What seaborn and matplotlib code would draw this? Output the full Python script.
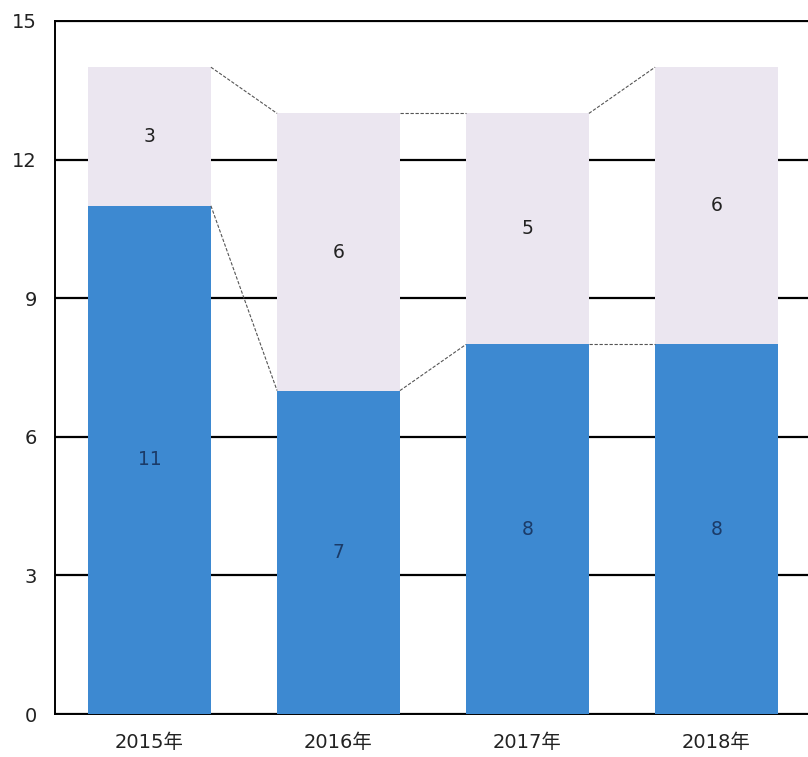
import matplotlib
matplotlib.use("Agg")
import matplotlib.pyplot as plt
import seaborn as sns
import pandas as pd

years = ["2015年", "2016年", "2017年", "2018年"]
lower_vals = [11, 7, 8, 8]
upper_vals = [3, 6, 5, 6]

BLUE = "#3d89d1"
LAVENDER = "#ebe6f0"

sns.set_theme(style="white")
plt.rcParams["font.family"] = ["DejaVu Sans", "Noto Sans CJK JP"]

df = pd.DataFrame({"year": years, "lower": lower_vals, "upper": upper_vals})
df["total"] = df["lower"] + df["upper"]

fig = plt.figure(figsize=(8.08, 7.57), dpi=100)
# axes span: left 55px, right ~811px, top 21px, bottom 714px
ax = fig.add_axes([55 / 808, 1 - 714 / 757, 756 / 808, 693 / 757])

sns.barplot(data=df, x="year", y="total", color=LAVENDER, width=0.65,
            saturation=1, ax=ax, zorder=3)
n = len(ax.patches)
sns.barplot(data=df, x="year", y="lower", color=BLUE, width=0.65,
            saturation=1, ax=ax, zorder=3)
upper_bars = ax.patches[:n]
lower_bars = ax.patches[n:]
for p in ax.patches:
    p.set_edgecolor("none")

# series lines between neighbouring bars
for bars in (upper_bars, lower_bars):
    for a, b in zip(bars[:-1], bars[1:]):
        ax.plot([a.get_x() + a.get_width(), b.get_x()],
                [a.get_height(), b.get_height()],
                color="#555555", lw=0.8, ls=(0, (3, 1.5)), zorder=4)

# value labels centred in each segment
for i, (lo, up) in enumerate(zip(lower_vals, upper_vals)):
    ax.text(i, lo / 2, str(lo), ha="center", va="center",
            fontsize=13.5, color="#1b3b68", zorder=5)
    ax.text(i, lo + up / 2, str(up), ha="center", va="center",
            fontsize=13.5, color="#222222", zorder=5)

ax.set_xlim(-0.5, 3.5)
ax.set_ylim(0, 15)
ax.set_yticks([0, 3, 6, 9, 12, 15])
ax.yaxis.grid(True, color="black", lw=1.6, zorder=0)
ax.set_axisbelow(True)
ax.set_xlabel("")
ax.set_ylabel("")
ax.tick_params(axis="both", length=0, labelsize=14, colors="#222222")
ax.tick_params(axis="y", pad=13)
ax.tick_params(axis="x", pad=14)

for side in ("left", "bottom", "top"):
    ax.spines[side].set_visible(True)
    ax.spines[side].set_color("black")
    ax.spines[side].set_linewidth(1.4)
ax.spines["right"].set_visible(False)

fig.savefig("out.png", dpi=100, facecolor="white")
